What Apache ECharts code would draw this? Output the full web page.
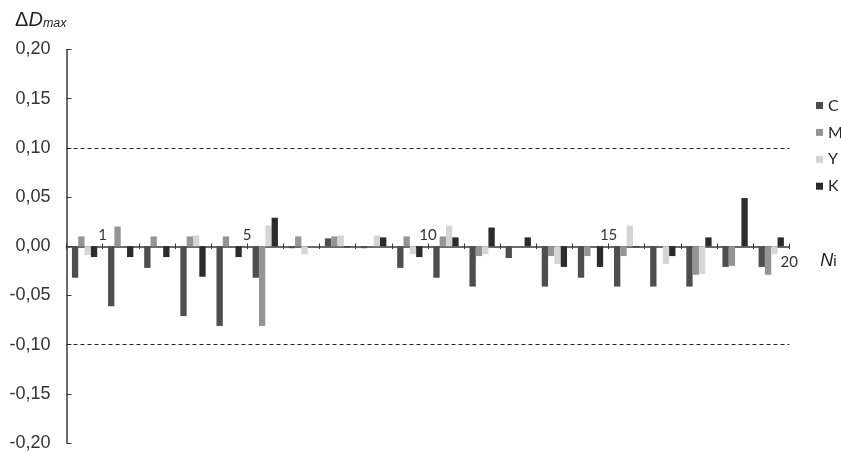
<!DOCTYPE html>
<html>
<head>
<meta charset="utf-8">
<style>
  html, body { margin: 0; padding: 0; background: #ffffff; }
  #chart { width: 841px; height: 452px; }
</style>
<script src="https://cdn.jsdelivr.net/npm/echarts@6/dist/echarts.min.js"></script>
</head>
<body>
<div id="chart"></div>
<script>
// Sample numbers N_i
const categories = ['1','2','3','4','5','6','7','8','9','10','11','12','13','14','15','16','17','18','19','20'];

// ΔD_max per ink channel
const seriesC = [-0.032, -0.061, -0.022, -0.071, -0.081, -0.032, -0.002, 0.008, -0.002, -0.022,
                 -0.032, -0.041, -0.012, -0.041, -0.032, -0.041, -0.041, -0.041, -0.021, -0.021];
const seriesM = [0.010, 0.020, 0.010, 0.010, 0.010, -0.081, 0.010, 0.010, 0, 0.010,
                 0.010, -0.010, 0, -0.010, -0.010, -0.010, 0, -0.029, -0.020, -0.029];
const seriesY = [-0.009, 0, 0, 0.011, 0, 0.021, -0.008, 0.011, 0.011, -0.008,
                 0.021, -0.008, 0, -0.018, 0, 0.021, -0.018, -0.028, 0, -0.008];
const seriesK = [-0.011, -0.011, -0.011, -0.031, -0.011, 0.029, 0, -0.001, 0.009, -0.011,
                 0.009, 0.019, 0.009, -0.021, -0.021, -0.001, -0.010, 0.009, 0.049, 0.009];

// Tolerance limits drawn as dashed lines
const limits = [0.10, -0.10];

// Sample numbers printed along the axis (above the line) and at its end (below)
const upperTickLabels = [1, 5, 10, 15];
const lowerTickLabels = [20];

// Value range of the ΔD axis
const yMin = -0.2;
const yMax = 0.2;
const yStep = 0.05;

const seriesNames = ['C', 'M', 'Y', 'K'];
const seriesData = [seriesC, seriesM, seriesY, seriesK];
const colors = ['#4e4e4e', '#959595', '#d5d5d5', '#2b2b2b'];

const axisColor = '#3a3a3a';
const sansFont = '"Liberation Sans", Arial, Helvetica, sans-serif';
const calFont = 'Lato, "Open Sans", sans-serif';

// Plot area
const W = 841, H = 452;
const grid = { left: 66.5, right: 51.7, top: 49.5, bottom: 7.5 };
const plotH = H - grid.top - grid.bottom;
// the sample axis runs along ΔD = 0: shift it in from the grid edges to that level
const zeroFromTop = plotH * (yMax - 0) / (yMax - yMin);
const zeroFromBottom = plotH - zeroFromTop;

const chart = echarts.init(document.getElementById('chart'), null, { renderer: 'canvas' });

const series = seriesNames.map((name, i) => {
  const s = {
    name: name,
    type: 'bar',
    xAxisIndex: 0,
    yAxisIndex: 0,
    data: seriesData[i],
    itemStyle: { color: colors[i] },
    barGap: '0%',
    barCategoryGap: '30%',
    silent: true,
    emphasis: { disabled: true }
  };
  if (i === 0) {
    s.markLine = {
      silent: true,
      symbol: ['none', 'none'],
      label: { show: false },
      lineStyle: { type: [4, 3], color: '#222222', width: 1 },
      data: limits.map(v => ({ yAxis: v }))
    };
  }
  return s;
});

const option = {
  animation: false,
  backgroundColor: '#ffffff',
  grid: Object.assign({ containLabel: false }, grid),
  legend: {
    orient: 'vertical',
    left: 811,
    top: 92.5,
    itemWidth: 7,
    itemHeight: 7,
    itemGap: 10.9,
    icon: 'rect',
    selectedMode: false,
    data: seriesNames,
    textStyle: { fontFamily: calFont, fontSize: 16, lineHeight: 16, color: '#222222' }
  },
  xAxis: [
    {
      // band axis carrying the bars; the visible line and ticks come from the two below
      type: 'category',
      data: categories,
      show: false,
      boundaryGap: true,
      axisLine: { onZero: false }
    },
    {
      type: 'value',
      position: 'top',
      offset: -zeroFromTop,
      min: 0,
      max: 20,
      interval: 1,
      axisLine: { show: true, onZero: false, lineStyle: { color: axisColor, width: 1.5 } },
      axisTick: { show: true, inside: false, length: 3.5, lineStyle: { color: axisColor, width: 1 } },
      splitLine: { show: false },
      axisLabel: {
        margin: 4,
        fontFamily: calFont,
        fontSize: 15,
        color: '#333333',
        formatter: v => (upperTickLabels.indexOf(v) >= 0 ? String(v) : '')
      }
    },
    {
      type: 'value',
      position: 'bottom',
      offset: -zeroFromBottom,
      min: 0,
      max: 20,
      interval: 1,
      axisLine: { show: false, onZero: false },
      axisTick: { show: true, inside: false, length: 3.5, lineStyle: { color: axisColor, width: 1 } },
      splitLine: { show: false },
      axisLabel: {
        margin: 9,
        fontFamily: calFont,
        fontSize: 15,
        color: '#333333',
        formatter: v => (lowerTickLabels.indexOf(v) >= 0 ? String(v) : '')
      },
      name: '{n|N}{i|i}',
      nameLocation: 'end',
      nameGap: 31,
      nameTextStyle: {
        verticalAlign: 'top',
        padding: [6, 0, 0, 0],
        rich: {
          n: { fontFamily: sansFont, fontStyle: 'italic', fontSize: 18, color: '#222222', lineHeight: 18 },
          i: { fontFamily: sansFont, fontSize: 15, color: '#222222', lineHeight: 10, verticalAlign: 'bottom' }
        }
      }
    }
  ],
  yAxis: {
    type: 'value',
    min: yMin,
    max: yMax,
    interval: yStep,
    axisLine: { show: true, onZero: false, lineStyle: { color: axisColor, width: 1.5 } },
    axisTick: { show: true, inside: true, length: 5, lineStyle: { color: axisColor, width: 1 } },
    splitLine: { show: false },
    axisLabel: {
      margin: 16,
      fontFamily: sansFont,
      fontSize: 18,
      color: '#333333',
      formatter: v => v.toFixed(2).replace('.', ',')
    },
    name: '{a|Δ}{d|D}{s|max}',
    nameLocation: 'end',
    nameGap: 19,
    nameTextStyle: {
      align: 'right',
      verticalAlign: 'bottom',
      rich: {
        a: { fontFamily: sansFont, fontSize: 20, color: '#222222', lineHeight: 20 },
        d: { fontFamily: sansFont, fontStyle: 'italic', fontSize: 20, color: '#222222', lineHeight: 20 },
        s: { fontFamily: sansFont, fontStyle: 'italic', fontSize: 12.5, color: '#222222', lineHeight: 10, verticalAlign: 'bottom' }
      }
    }
  },
  series: series
};

chart.setOption(option);
</script>
</body>
</html>
